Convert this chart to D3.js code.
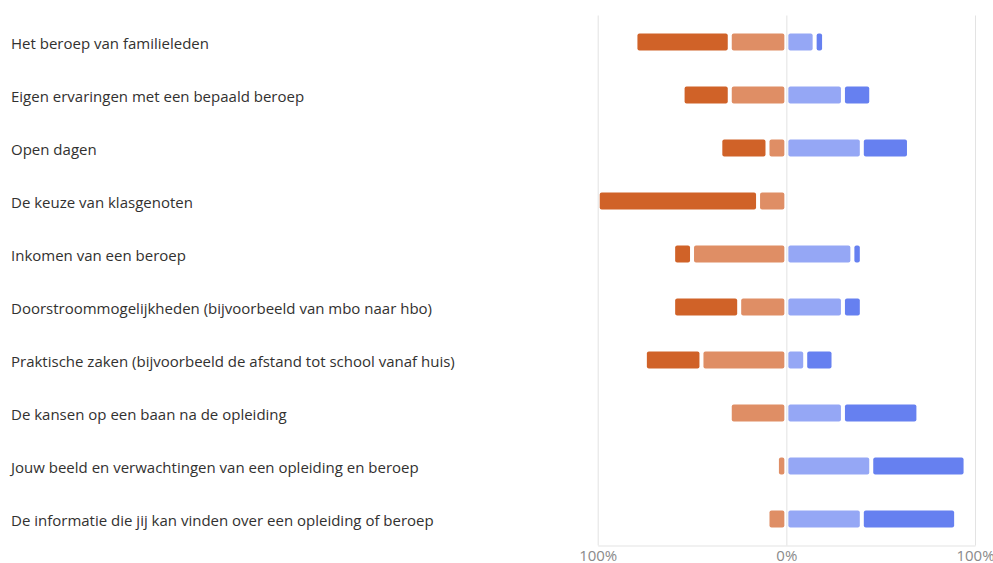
<!DOCTYPE html>
<html>
<head>
<meta charset="utf-8">
<script src="https://cdn.jsdelivr.net/npm/d3@7"></script>
<style>
  body { margin: 0; background: #fff; }
  svg { display: block; font-family: "Segoe UI", "Open Sans", "Noto Sans", sans-serif; }
</style>
</head>
<body>
<div id="chart"></div>
<script>
const categories = [
  "Het beroep van familieleden",
  "Eigen ervaringen met een bepaald beroep",
  "Open dagen",
  "De keuze van klasgenoten",
  "Inkomen van een beroep",
  "Doorstroommogelijkheden (bijvoorbeeld van mbo naar hbo)",
  "Praktische zaken (bijvoorbeeld de afstand tot school vanaf huis)",
  "De kansen op een baan na de opleiding",
  "Jouw beeld en verwachtingen van een opleiding en beroep",
  "De informatie die jij kan vinden over een opleiding of beroep"
];
// percentages per answer level
const heelOnbelangrijk = [50, 25, 25, 85, 10, 35, 30, 0, 0, 0];
const onbelangrijk     = [30, 30, 10, 15, 50, 25, 45, 30, 5, 10];
const belangrijk       = [15, 30, 40, 0, 35, 30, 10, 30, 45, 40];
const heelBelangrijk   = [5, 15, 25, 0, 5, 10, 15, 40, 50, 50];
const tickValues = [-100, 0, 100];

const width = 993, height = 563;
const plotTop = 15.5, plotBottom = 545.5;

const svg = d3.select("#chart").append("svg")
  .attr("width", width)
  .attr("height", height);

const x = d3.scaleLinear().domain([-100, 100]).range([597.7, 975]);
const y = d3.scaleBand().domain(categories).range([plotTop, plotBottom]).paddingInner(0.68).paddingOuter(0.34);

// grid / axis
const axis = d3.axisBottom(x)
  .tickValues(tickValues)
  .tickFormat(d => Math.abs(d) + "%")
  .tickSize(-(plotBottom - plotTop))
  .tickSizeOuter(0)
  .tickPadding(5);

const gAxis = svg.append("g")
  .attr("transform", `translate(0,${plotBottom})`)
  .call(axis);
gAxis.select(".domain").attr("stroke", "#e3e3e3");
gAxis.selectAll(".tick line").attr("stroke", "#e3e3e3");
gAxis.selectAll(".tick text")
  .attr("fill", "#8a8a8a")
  .attr("font-size", "15px")
  .attr("font-family", "\"Segoe UI\", \"Open Sans\", \"Noto Sans\", sans-serif");

// build segments
const segments = [];
categories.forEach((c, i) => {
  const lo = onbelangrijk[i], hlo = heelOnbelangrijk[i];
  const b = belangrijk[i], hb = heelBelangrijk[i];
  segments.push({ cat: c, x0: -lo, x1: 0, color: "#df8e65" });
  segments.push({ cat: c, x0: -(lo + hlo), x1: -lo, color: "#d06228" });
  segments.push({ cat: c, x0: 0, x1: b, color: "#95a7f5" });
  segments.push({ cat: c, x0: b, x1: b + hb, color: "#6680f0" });
});

const inset = 2;
svg.append("g").selectAll("rect")
  .data(segments.filter(d => d.x1 - d.x0 > 0))
  .enter().append("rect")
  .attr("x", d => x(d.x0) + inset)
  .attr("y", d => y(d.cat))
  .attr("width", d => Math.max(0, x(d.x1) - x(d.x0) - inset * 2))
  .attr("height", y.bandwidth())
  .attr("rx", 2)
  .attr("ry", 2)
  .attr("fill", d => d.color);

// category labels
svg.append("g").selectAll("text")
  .data(categories)
  .enter().append("text")
  .attr("x", 11)
  .attr("y", d => y(d) + y.bandwidth() / 2 + 7)
  .attr("font-size", "15px")
  .attr("fill", "#323130")
  .text(d => d);
</script>
</body>
</html>
